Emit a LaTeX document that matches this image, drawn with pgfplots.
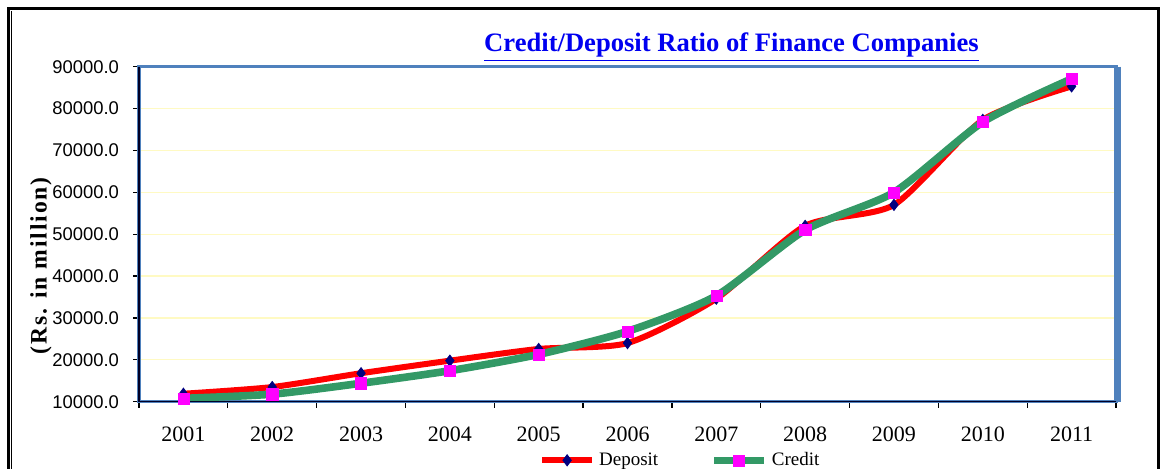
\documentclass[border=0pt]{standalone}
\usepackage{fontspec}
\setmainfont{Liberation Serif}
\newfontfamily\arialf{Liberation Sans}
\usepackage{pgfplots}
\pgfplotsset{compat=1.18}
\definecolor{axblue}{RGB}{79,129,189}
\definecolor{sgreen}{RGB}{51,153,102}
\definecolor{gridyel}{RGB}{255,250,195}
\definecolor{navy}{RGB}{0,0,128}
\definecolor{mag}{RGB}{255,0,255}
\definecolor{ttlblue}{RGB}{0,0,240}
\begin{document}
\begin{tikzpicture}[x=0.5pt,y=-0.5pt]
\useasboundingbox (0,0) rectangle (1162,469);
% outer frame
\draw[line width=1.5pt] (8.5,500) -- (8.5,8.5) -- (1158.5,8.5) -- (1158.5,500);
\draw[line width=0.6pt] (11.8,11) -- (11.8,500);
\begin{axis}[
  at={(69.5pt,-200.85pt)}, anchor=south west,
  scale only axis, width=488.5pt, height=167.5pt,
  xmin=-0.5, xmax=10.5, ymin=10000, ymax=90000,
  xtick={0,...,10},
  xticklabels={2001,2002,2003,2004,2005,2006,2007,2008,2009,2010,2011},
  minor xtick={-0.5,0.5,...,10.5},
  ytick={10000,20000,...,90000},
  scaled y ticks=false,
  tick align=outside,
  xtick pos=bottom, ytick pos=left,
  major x tick style={draw=none},
  minor x tick style={black, line width=0.6pt},
  minor tick length=3pt,
  major tick length=3pt,
  y tick style={black, line width=0.6pt},
  ymajorgrids, grid style={gridyel, line width=0.6pt},
  axis line style={axblue, line width=1.6pt},
  /pgf/number format/.cd, fixed, fixed zerofill, precision=1, 1000 sep={}, assume math mode=true,
  /pgfplots/.cd,
  yticklabel style={font=\arialf\fontsize{9.2}{10}\selectfont, xshift=-3.5pt},
  xticklabel style={font=\fontsize{11}{12}\selectfont, yshift=-6pt},
  clip=false,
  legend style={at={(0.555,-0.175)}, anchor=center, draw=none, fill=none,
    font=\fontsize{9.5}{10}\selectfont, legend columns=2,
    /tikz/every even column/.append style={column sep=24pt},
    inner sep=0pt},
  legend cell align=left,
  legend image code/.code={\draw[mark repeat=2,mark phase=2,#1] plot coordinates {(0pt,0pt)(12.5pt,0pt)(25pt,0pt)};},
]
\addplot[red, line width=3pt, smooth, tension=0.4, mark=diamond*, mark options={navy, fill=navy, line width=0.4pt, scale=1.4}]
 coordinates {(0,11900)(1,13500)(2,16800)(3,19800)(4,22600)(5,24000)(6,34600)(7,52000)(8,57000)(9,77300)(10,85300)};
\addlegendentry{Deposit}
\addplot[sgreen, line width=3.8pt, smooth, tension=0.4, mark=square*, mark options={mag, fill=mag, line width=0.2pt, scale=1.4}]
 coordinates {(0,10800)(1,11800)(2,14400)(3,17400)(4,21300)(5,26800)(6,35300)(7,51000)(8,60000)(9,76800)(10,87100)};
\addlegendentry{Credit}
\draw[axblue, line width=1.6pt] ([xshift=1.5pt]rel axis cs:1,1) -- ([xshift=1.5pt]rel axis cs:1,0);
\draw[black!85!blue, line width=0.6pt] (rel axis cs:0,1) -- (rel axis cs:0,0) -- (rel axis cs:1,0);
\end{axis}
\node[font=\bfseries\fontsize{13.3}{15}\selectfont, text=ttlblue] at (731.5,47) {\underline{Credit/Deposit Ratio of Finance Companies}};
\node[rotate=90, font=\bfseries\fontsize{11.8}{13}\selectfont\addfontfeature{LetterSpace=8}] at (41,266) {(Rs. in million)};
\end{tikzpicture}
\end{document}
